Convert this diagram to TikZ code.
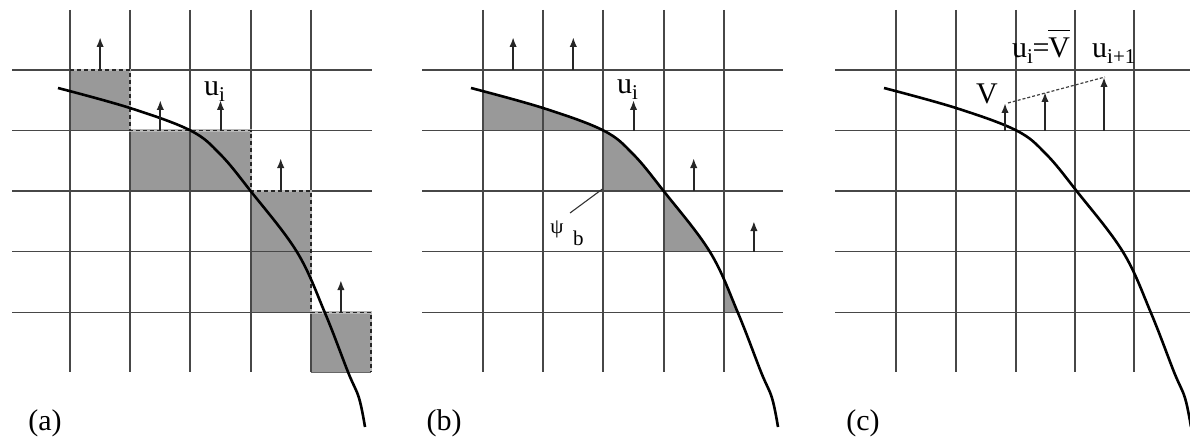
\documentclass[tikz,border=0pt]{standalone}
\usepackage{fontspec}
\setmainfont{Liberation Serif}
\usetikzlibrary{arrows.meta}
\definecolor{gridc}{gray}{0.28}
\definecolor{boxc}{gray}{0.6}
\definecolor{edgeunder}{gray}{0.72}
\begin{document}
\begin{tikzpicture}[x=1pt,y=-1pt,
  gridline/.style={draw=gridc,line width=1.9pt},
  bodycurve/.style={insert path={plot[smooth,tension=0.6] coordinates {(-12,88) (60,108) (120.4,130.5) (150,154) (180.6,191) (227,252) (255,313) (278,372) (289,398) (295,427)}}},
  curveline/.style={line width=2.6pt,draw=black},
  flux/.style={line width=2pt,draw=black!85,-{Latex[length=10pt,width=7.5pt]}},
  dashedge/.style={line width=1.8pt,draw=black!85,dash pattern=on 4pt off 3pt},
  lbl/.style={font=\fontsize{30}{32}\selectfont,inner sep=0pt},
  smalllbl/.style={font=\fontsize{21}{24}\selectfont,inner sep=0pt}
]
\useasboundingbox (0,0) rectangle (1190,441);

% ---------------- panel (a) ----------------
\begin{scope}[shift={(70,0)}]
  \fill[boxc] (0,70) rectangle (60.2,130.5);
  \fill[boxc] (60.2,130.5) rectangle (180.6,191);
  \fill[boxc] (180.6,191) rectangle (240.8,312.5);
  \fill[boxc] (240.8,312.5) rectangle (301,372);
  \foreach \x in {0,60.2,120.4,180.6,240.8} \draw[gridline] (\x,10) -- (\x,372);
  \foreach \y in {70,130.5,191,251.5,312.5} \draw[gridline] (-58,\y) -- (302,\y);
  \draw[line width=2.2pt,draw=edgeunder] (0,70) -- (60.2,70) -- (60.2,130.5) -- (180.6,130.5) -- (180.6,191) -- (240.8,191) -- (240.8,312.5) -- (301,312.5) -- (301,372);
  \draw[dashedge] (0,70) -- (60.2,70) -- (60.2,130.5) -- (180.6,130.5) -- (180.6,191) -- (240.8,191) -- (240.8,312.5) -- (301,312.5) -- (301,372);
  \draw[line width=1pt,draw=black!60] (240.8,372) -- (301,372);
  \draw[curveline,bodycurve];
  \coordinate (a1s) at (30.1,70);   \coordinate (a1e) at (30.1,37);
  \coordinate (a2s) at (90.3,130.5); \coordinate (a2e) at (90.3,100);
  \coordinate (a3s) at (150.5,130.5); \coordinate (a3e) at (150.5,100);
  \coordinate (a4s) at (210.7,191);  \coordinate (a4e) at (210.7,158);
  \coordinate (a5s) at (270.9,312.5); \coordinate (a5e) at (270.9,280);
  \foreach \i in {1,...,5} \draw[flux] (a\i s) -- (a\i e);
  \node[lbl,anchor=base west] (aui) at (134,96) {u\textsubscript{i}};
\end{scope}
\node[lbl] (alabel) at (45,423) {(a)};

% ---------------- panel (b) ----------------
\begin{scope}[shift={(483,0)}]
  \begin{scope}
    \clip[bodycurve] -- (295,460) -- (-70,460) -- (-70,88) -- cycle;
    \fill[boxc] (0,70) rectangle (120.4,130.5);
    \fill[boxc] (120.4,130.5) rectangle (180.6,191);
    \fill[boxc] (180.6,191) rectangle (240.8,251.5);
    \fill[boxc] (240.8,251.5) rectangle (301,312.5);
  \end{scope}
  \foreach \x in {0,60.2,120.4,180.6,240.8} \draw[gridline] (\x,10) -- (\x,372);
  \foreach \y in {70,130.5,191,251.5,312.5} \draw[gridline] (-61,\y) -- (300,\y);
  \draw[curveline,bodycurve];
  \coordinate (b1s) at (30.1,70);    \coordinate (b1e) at (30.1,37);
  \coordinate (b2s) at (90.3,70);    \coordinate (b2e) at (90.3,37);
  \coordinate (b3s) at (150.5,130.5); \coordinate (b3e) at (150.5,100);
  \coordinate (b4s) at (210.7,191);  \coordinate (b4e) at (210.7,158);
  \coordinate (b5s) at (270.9,251.5); \coordinate (b5e) at (270.9,221);
  \foreach \i in {1,...,5} \draw[flux] (b\i s) -- (b\i e);
  \node[lbl,anchor=base west] (bui) at (134,94) {u\textsubscript{i}};
  \coordinate (psicorner) at (119.5,189);
  \node[smalllbl] (psi) at (74,229) {ψ};
  \node[smalllbl,anchor=base west] (psib) at (90,245) {b};
  \coordinate (psiend) at (87,213);
  \draw[line width=1.1pt,draw=black!80] (psicorner) -- (psiend);
\end{scope}
\node[lbl] (blabel) at (444,423) {(b)};

% ---------------- panel (c) ----------------
\begin{scope}[shift={(896,0)}]
  \foreach \x in {0,60,120,179,238} \draw[gridline] (\x,10) -- (\x,372);
  \foreach \y in {70,130.5,191,251.5,312.5} \draw[gridline] (-61,\y) -- (300,\y);
  \draw[curveline,bodycurve];
  \coordinate (c1s) at (109,130.5); \coordinate (c1e) at (109,103);
  \coordinate (c2s) at (149,130.5); \coordinate (c2e) at (149,92);
  \coordinate (c3s) at (208,130.5); \coordinate (c3e) at (208,77);
  \foreach \i in {1,...,3} \draw[flux] (c\i s) -- (c\i e);
  \draw[line width=1.2pt,draw=black!75,dash pattern=on 3pt off 2pt] (112,103) -- (209,77);
  \node[lbl,anchor=base west] (cV) at (80,103) {V};
  \node[lbl,anchor=base west] (cui) at (116,58) {u\textsubscript{i}\kern-1pt=\kern-1pt$\overline{\hbox{\rule{0pt}{26pt}V}}$};
  \node[lbl,anchor=base west] (cuip) at (196,58) {u\textsubscript{i+1}};
\end{scope}
\node[lbl] (clabel) at (863,423) {(c)};
\end{tikzpicture}
\end{document}
